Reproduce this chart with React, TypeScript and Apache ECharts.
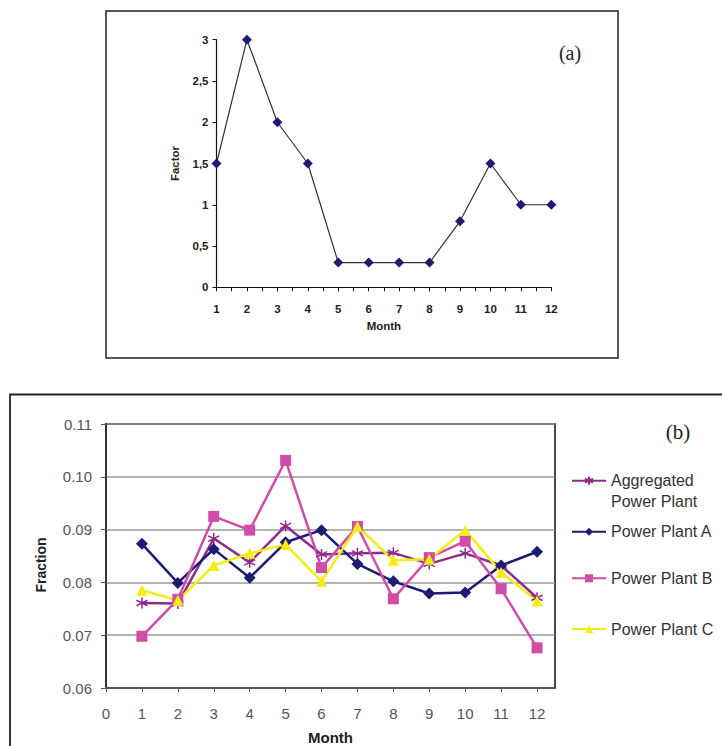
import React, { useEffect, useRef } from 'react';
import * as echarts from 'echarts';

// ---- Panel (a) data ----
const months = [1, 2, 3, 4, 5, 6, 7, 8, 9, 10, 11, 12];
const factorValues = [1.5, 3, 2, 1.5, 0.3, 0.3, 0.3, 0.3, 0.8, 1.5, 1, 1];

// ---- Panel (b) data ----
const seriesNames = ['Aggregated Power Plant', 'Power Plant A', 'Power Plant B', 'Power Plant C'];
const aggregated = [0.0761, 0.076, 0.0883, 0.0838, 0.0907, 0.0853, 0.0855, 0.0856, 0.0835, 0.0855, 0.0832, 0.0771];
const plantA = [0.0873, 0.0799, 0.0863, 0.0809, 0.0876, 0.0899, 0.0835, 0.0802, 0.0779, 0.0781, 0.0832, 0.0858];
const plantB = [0.0698, 0.0768, 0.0925, 0.0899, 0.1031, 0.0828, 0.0906, 0.0769, 0.0847, 0.0878, 0.0788, 0.0676];
const plantC = [0.0785, 0.0766, 0.0832, 0.0855, 0.0872, 0.0802, 0.0906, 0.0842, 0.0844, 0.0899, 0.0819, 0.0765];
const monthTicksB = [0, 1, 2, 3, 4, 5, 6, 7, 8, 9, 10, 11, 12];

const SANS = '"Liberation Sans", Arial, Helvetica, sans-serif';
const SERIF = '"Liberation Serif", "Times New Roman", serif';

const COLORS = {
  agg: '#8e2c8e',
  a: '#1c1c72',
  b: '#d04ca8',
  c: '#f2ee10',
};

const asterisk = 'path://M0,-6L0,6M-5.2,-3L5.2,3M-5.2,3L5.2,-3';

export default function App() {
  const ref = useRef<HTMLDivElement>(null);

  useEffect(() => {
    document.body.style.margin = '0';
    if (!ref.current) return;
    const chart = echarts.init(ref.current, undefined, { renderer: 'svg' });

    const pair = (arr: number[]) => months.map((m, i) => [m, arr[i]]);

    const legendBase = {
      orient: 'vertical' as const,
      left: 571,
      itemWidth: 34,
      itemHeight: 10,
      padding: 0,
      selectedMode: false,
      textStyle: { fontSize: 16, color: '#333', fontFamily: SANS, lineHeight: 21 },
    };

    const option: any = {
      animation: false,
      backgroundColor: '#fff',
      grid: [
        { left: 216.5, top: 39.7, right: 170.7, bottom: 458.7, containLabel: false },
        {
          left: 106, top: 424, right: 167, bottom: 53.3, containLabel: false,
          show: true, borderColor: '#333', borderWidth: 1.8, backgroundColor: '#fff',
        },
      ],
      xAxis: [
        {
          gridIndex: 0, type: 'value', min: 1, max: 12, interval: 0.5,
          name: 'Month', nameLocation: 'middle', nameGap: 33,
          nameTextStyle: { fontSize: 11.5, fontWeight: 'bold', color: '#222', fontFamily: SANS },
          axisLine: { lineStyle: { color: '#111', width: 1.2 } },
          axisTick: { show: true, length: 4, lineStyle: { color: '#111' } },
          axisLabel: {
            fontSize: 11.5, fontWeight: 'bold', color: '#222', fontFamily: SANS, margin: 16,
            formatter: (v: number) => (Number.isInteger(v) ? String(v) : ''),
          },
          splitLine: { show: false },
        },
        {
          gridIndex: 1, type: 'value', min: 0, max: 12.5, interval: 1,
          name: 'Month', nameLocation: 'middle', nameGap: 42,
          nameTextStyle: { fontSize: 15, fontWeight: 'bold', color: '#222', fontFamily: SANS },
          axisLine: { lineStyle: { color: '#555', width: 2 } },
          axisTick: { show: true, length: 4, customValues: monthTicksB, lineStyle: { color: '#555' } },
          axisLabel: {
            fontSize: 15, color: '#555', fontFamily: SANS, margin: 18,
            customValues: monthTicksB,
            formatter: (v: number) => (Number.isInteger(v) ? String(v) : ''),
          },
          splitLine: { show: false },
        },
      ],
      yAxis: [
        {
          gridIndex: 0, type: 'value', min: 0, max: 3, interval: 0.5,
          name: 'Factor', nameLocation: 'middle', nameGap: 36, nameRotate: 90,
          nameTextStyle: { fontSize: 11.5, fontWeight: 'bold', color: '#222', fontFamily: SANS },
          axisLine: { show: true, lineStyle: { color: '#111', width: 1.2 } },
          axisTick: { show: true, length: 4, lineStyle: { color: '#111' } },
          axisLabel: {
            fontSize: 11.5, fontWeight: 'bold', color: '#222', fontFamily: SANS, margin: 8,
            formatter: (v: number) => String(v).replace('.', ','),
          },
          splitLine: { show: false },
        },
        {
          gridIndex: 1, type: 'value', min: 0.06, max: 0.11, interval: 0.01,
          name: 'Fraction', nameLocation: 'middle', nameGap: 58, nameRotate: 90,
          nameTextStyle: {
            fontSize: 14, fontWeight: 'bold', color: '#222', fontFamily: SANS,
            padding: [0, 18, 0, 0],
          },
          axisLine: { show: true, lineStyle: { color: '#333', width: 1.8 } },
          axisTick: { show: true, length: 5, lineStyle: { color: '#555' } },
          axisLabel: {
            fontSize: 15, color: '#555', fontFamily: SANS, margin: 14,
            formatter: (v: number) => v.toFixed(2),
          },
          splitLine: { show: true, lineStyle: { color: '#9a9a9a', width: 1.5 } },
        },
      ],
      legend: [
        {
          ...legendBase, top: 449.2, data: [seriesNames[0]],
          formatter: () => '\nAggregated\nPower Plant',
        },
        { ...legendBase, top: 521.2, data: [seriesNames[1]] },
        { ...legendBase, top: 567.8, data: [seriesNames[2]] },
        { ...legendBase, top: 618.5, data: [seriesNames[3]] },
      ],
      series: [
        {
          type: 'line', xAxisIndex: 0, yAxisIndex: 0, name: 'Factor',
          data: pair(factorValues),
          symbol: 'diamond', symbolSize: 10,
          lineStyle: { color: '#333', width: 1.2 },
          itemStyle: { color: '#1c1c72', borderWidth: 0 },
        },
        {
          type: 'line', xAxisIndex: 1, yAxisIndex: 1, name: seriesNames[0],
          data: pair(aggregated),
          symbol: asterisk, symbolSize: 11,
          lineStyle: { color: COLORS.agg, width: 2.5 },
          itemStyle: { color: 'none', borderColor: COLORS.agg, borderWidth: 1.5 },
        },
        {
          type: 'line', xAxisIndex: 1, yAxisIndex: 1, name: seriesNames[1],
          data: pair(plantA),
          symbol: 'diamond', symbolSize: 12,
          lineStyle: { color: COLORS.a, width: 2.5 },
          itemStyle: { color: COLORS.a, borderWidth: 0 },
        },
        {
          type: 'line', xAxisIndex: 1, yAxisIndex: 1, name: seriesNames[2],
          data: pair(plantB),
          symbol: 'rect', symbolSize: 11,
          lineStyle: { color: COLORS.b, width: 2.5 },
          itemStyle: { color: COLORS.b, borderWidth: 0 },
        },
        {
          type: 'line', xAxisIndex: 1, yAxisIndex: 1, name: seriesNames[3],
          data: pair(plantC),
          symbol: 'triangle', symbolSize: 11,
          lineStyle: { color: COLORS.c, width: 2.5 },
          itemStyle: { color: COLORS.c, borderWidth: 0 },
        },
      ],
      graphic: [
        {
          type: 'rect', silent: true,
          shape: { x: 106, y: 11, width: 512, height: 347 },
          style: { fill: 'none', stroke: '#222', lineWidth: 1.5 },
        },
        {
          type: 'rect', silent: true,
          shape: { x: 10, y: 394.5, width: 740, height: 400 },
          style: { fill: 'none', stroke: '#222', lineWidth: 1.8 },
        },
        {
          type: 'text', x: 570, y: 53,
          style: { text: '(a)', fontSize: 20, fontFamily: SERIF, fill: '#222', align: 'center', verticalAlign: 'middle' },
        },
        {
          type: 'text', x: 678, y: 432,
          style: { text: '(b)', fontSize: 21, fontFamily: SERIF, fill: '#222', align: 'center', verticalAlign: 'middle' },
        },
      ],
    };

    chart.setOption(option);
    return () => chart.dispose();
  }, []);

  return <div ref={ref} style={{ width: 722, height: 746 }} />;
}
